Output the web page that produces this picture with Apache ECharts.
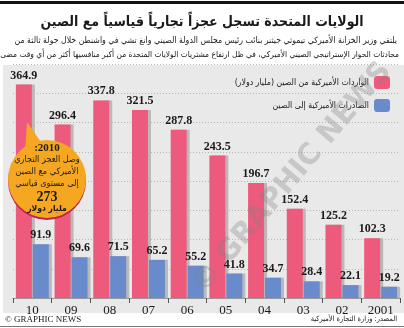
<!DOCTYPE html>
<html><head><meta charset="utf-8">
<script src="https://cdn.jsdelivr.net/npm/echarts@6/dist/echarts.min.js"></script>
<style>html,body{margin:0;padding:0;background:#fff}#c{width:404px;height:328px}</style>
</head><body><div id="c"></div>
<script>
const categories = ['10','09','08','07','06','05','04','03','02','2001'];
const imports = [364.9, 296.4, 337.8, 321.5, 287.8, 243.5, 196.7, 152.4, 125.2, 102.3];
const exportsUS = [91.9, 69.6, 71.5, 65.2, 55.2, 41.8, 34.7, 28.4, 22.1, 19.2];
const seriesNames = ['الواردات الأميركية من الصين (مليار دولار)', 'الصادرات الأميركية إلى الصين'];
const titleText = 'الولايات المتحدة تسجل عجزاً تجارياً قياسياً مع الصين';
const subLine1 = 'يلتقي وزير الخزانة الأميركي تيموثي جيثنر بنائب رئيس مجلس الدولة الصيني وانغ تشي في واشنطن خلال جولة ثالثة من';
const subLine2 = 'محادثات الحوار الإستراتيجي الصيني الأميركي، في ظل ارتفاع مشتريات الولايات المتحدة من أكبر منافسيها أكثر من أي وقت مضى';
const sourceText = 'المصدر: وزارة التجارة الأميركية';
const calloutLines = [':2010', 'وصل العجز التجاري', 'الأميركي مع الصين', 'إلى مستوى قياسي'];
const calloutValue = '273';
const calloutUnit = 'مليار دولار';

const ARC = "'DejaVu Sans Condensed', 'DejaVu Sans', sans-serif";
const SERIF = "'Liberation Serif', 'DejaVu Serif', serif";
const chart = echarts.init(document.getElementById('c'), null, {renderer: 'canvas'});
const labelStyle = {show: true, position: 'top', distance: 3, fontFamily: SERIF, fontWeight: 'bold', fontSize: 12, color: '#1a1a1a'};
const shadow = {shadowColor: '#b9b9b9', shadowOffsetX: 3, shadowOffsetY: 0, shadowBlur: 0};

function txt(x, y, s, font, align, z) {
  return {type: 'text', z: z || 10, x: x, y: y, style: {text: s, font: font, fill: '#1a1a1a', textAlign: align, textVerticalAlign: 'middle'}};
}

chart.setOption({
  animation: false,
  backgroundColor: '#fff',
  grid: {left: 13, right: 4, top: 64, bottom: 30},
  legend: {
    orient: 'vertical', right: 9, top: 71, align: 'right',
    itemWidth: 16, itemHeight: 13, itemGap: 10,
    textStyle: {fontFamily: ARC, fontSize: 8.7, color: '#222'},
    data: seriesNames
  },
  xAxis: {
    type: 'category', data: categories,
    axisLine: {lineStyle: {color: '#999', width: 1}},
    axisTick: {show: true, length: 5, lineStyle: {color: '#555'}},
    axisLabel: {fontFamily: SERIF, fontSize: 13, color: '#1a1a1a', margin: 6}
  },
  yAxis: {
    type: 'value', min: 0, max: 400, interval: 50,
    axisLabel: {show: false}, axisLine: {show: false}, axisTick: {show: false},
    splitLine: {lineStyle: {color: '#b5b5b5', type: [1, 2], width: 1}}
  },
  series: [
    {name: seriesNames[0], type: 'bar', data: imports, barWidth: 16, barGap: '6%',
     itemStyle: Object.assign({color: '#ee5a7c'}, shadow), label: labelStyle, z: 3},
    {name: seriesNames[1], type: 'bar', data: exportsUS, barWidth: 16,
     itemStyle: Object.assign({color: '#6a8bcb'}, shadow), label: labelStyle, z: 3}
  ],
  graphic: [
    {type: 'rect', z: -10, silent: true, shape: {x: 3, y: 65, width: 401, height: 248}, style: {fill: '#e9e9ea'}},
    {type: 'rect', z: -10, shape: {x: 0, y: 1, width: 404, height: 3}, style: {fill: '#111'}},
    txt(202, 22, titleText, "bold 14px " + ARC, 'center'),
    txt(397, 41, subLine1, "8.7px " + ARC, 'right'),
    txt(399, 55, subLine2, "8.3px " + ARC, 'right'),
    // watermark
    {type: 'text', z: 20, silent: true, x: 292, y: 178, rotation: 0.87,
     style: {text: '© GRAPHIC NEWS', font: "bold 29px 'DejaVu Sans', sans-serif", fill: 'rgba(130,130,130,0.33)', textAlign: 'center', textVerticalAlign: 'middle'}},
    // callout
    {type: 'circle', z: 30, shape: {cx: 47, cy: 181, r: 39}, style: {fill: '#c0234f'}},
    {type: 'polygon', z: 31, shape: {points: [[27, 122], [25, 153], [43, 145]]}, style: {fill: '#f6a722'}},
    {type: 'circle', z: 31, shape: {cx: 47, cy: 179, r: 39}, style: {fill: '#f6a722'}},
    txt(47, 148, calloutLines[0], "bold 11px " + SERIF, 'center', 32),
    txt(47, 160, calloutLines[1], "9px " + ARC, 'center', 32),
    txt(47, 172, calloutLines[2], "9px " + ARC, 'center', 32),
    txt(47, 184, calloutLines[3], "9px " + ARC, 'center', 32),
    txt(47, 197, calloutValue, "bold 14px " + SERIF, 'center', 32),
    txt(47, 209, calloutUnit, "bold 8.5px " + ARC, 'center', 32),
    // footer
    txt(5, 320, '© GRAPHIC NEWS', "9px " + SERIF, 'left'),
    txt(397, 319, sourceText, "7.4px " + ARC, 'right'),
    {type: 'rect', z: 10, shape: {x: 0, y: 326, width: 404, height: 1}, style: {fill: '#777'}}
  ]
});
</script></body></html>
